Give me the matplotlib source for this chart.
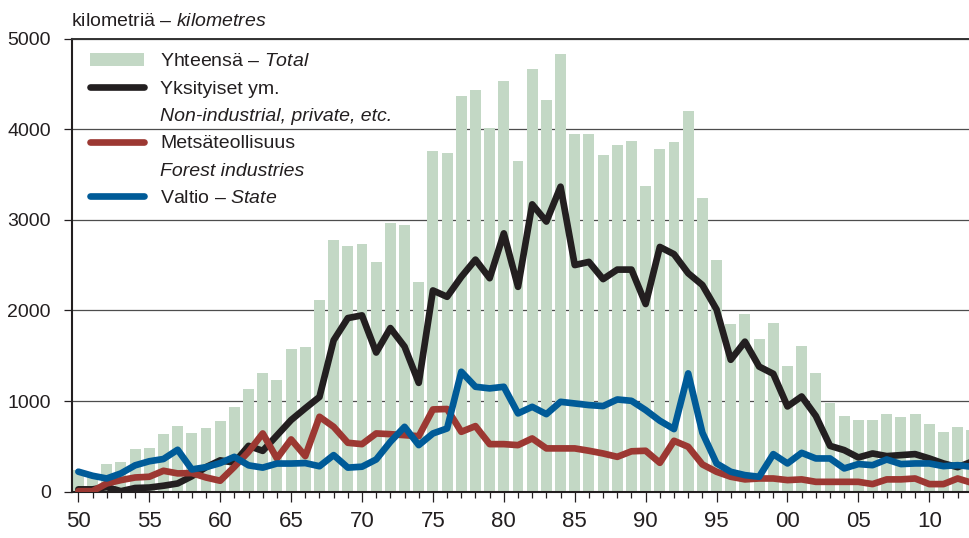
"""Tieverkko: rakennetut metsäautotiet omistajaryhmittäin 1950-2013."""
import matplotlib
matplotlib.use("Agg")
import matplotlib.pyplot as plt
from matplotlib.lines import Line2D
from matplotlib.patches import Patch

plt.rcParams["font.family"] = ["Liberation Sans", "DejaVu Sans"]
plt.rcParams["mathtext.fontset"] = "custom"
plt.rcParams["mathtext.rm"] = "Liberation Sans"
plt.rcParams["mathtext.it"] = "Liberation Sans:italic"

years = list(range(1950, 2014))
total = [240, 200, 304, 326, 470, 482, 638, 723, 646, 705,
         782, 936, 1130, 1311, 1231, 1573, 1595, 2114, 2776, 2710,
         2732, 2533, 2964, 2942, 2312, 3758, 3736, 4365, 4431, 4012,
         4531, 3648, 4663, 4321, 4829, 3946, 3946, 3714, 3825, 3869,
         3375, 3780, 3857, 4200, 3240, 2555, 1849, 1959, 1683, 1860,
         1385, 1606, 1308, 977, 833, 789, 789, 855, 822, 855,
         745, 657, 712, 680]
private = [25, 25, 50, 5, 40, 45, 65, 90, 170, 270,
           345, 320, 505, 450, 620, 790, 920, 1045, 1670, 1915,
           1945, 1535, 1805, 1600, 1200, 2220, 2150, 2370, 2560, 2355,
           2850, 2260, 3170, 2980, 3365, 2500, 2535, 2345, 2450, 2450,
           2070, 2700, 2620, 2410, 2280, 2010, 1455, 1655, 1380, 1300,
           940, 1050, 835, 505, 458, 377, 421, 392, 403, 414,
           366, 311, 270, 330]
industry = [5, 5, 90, 127, 156, 164, 230, 201, 205, 156,
            120, 274, 440, 642, 366, 576, 392, 826, 715, 539,
            524, 642, 634, 623, 612, 907, 912, 660, 723, 524,
            524, 513, 587, 477, 477, 477, 451, 421, 384, 445,
            451, 318, 561, 495, 300, 219, 164, 135, 145, 145,
            127, 135, 108, 108, 108, 108, 83, 135, 135, 145,
            83, 83, 145, 97]
state = [220, 175, 145, 201, 290, 335, 360, 462, 245, 270,
         315, 384, 290, 265, 310, 310, 315, 280, 403, 265,
         275, 355, 550, 715, 513, 642, 697, 1323, 1157, 1139,
         1157, 863, 936, 855, 991, 973, 955, 944, 1017, 1002,
         900, 782, 690, 1305, 650, 311, 219, 182, 164, 414,
         311, 428, 366, 366, 256, 304, 292, 355, 304, 311,
         311, 281, 292, 274]

xtick_years = list(range(1950, 2011, 5))
xtick_labels = ["50", "55", "60", "65", "70", "75", "80", "85", "90",
                "95", "00", "05", "10"]
ytick_values = [0, 1000, 2000, 3000, 4000, 5000]

legend_labels = ["Yhteensä – $\\mathit{Total}$",
                 "Yksityiset ym.",
                 "Non-industrial, private, etc.",
                 "Metsäteollisuus",
                 "Forest industries",
                 "Valtio – $\\mathit{State}$"]

TEXT = "#231f20"
BAR = "#c3d8c5"
BLACK = "#231f20"
RED = "#9c3832"
BLUE = "#005b98"
LW = 4.8


def main():
    fig = plt.figure(figsize=(9.69, 5.38), dpi=100)
    ax = fig.add_axes([0.074, 0.0862, 0.926, 0.8422])

    bars = ax.bar(years, total, width=0.77, color=BAR, zorder=2)
    line_kw = dict(lw=LW, solid_joinstyle="round", solid_capstyle="round", zorder=3)
    ax.plot(years, private, color=BLACK, **line_kw)
    ax.plot(years, industry, color=RED, **line_kw)
    ax.plot(years, state, color=BLUE, **line_kw)

    ax.set_xlim(1949.53, 2012.8)
    ax.set_ylim(0, 5000)
    ax.set_axisbelow(True)
    ax.yaxis.grid(True, color="#4d4d4d", lw=0.9)

    ax.set_yticks(ytick_values)
    ax.set_yticklabels([str(v) for v in ytick_values])
    ax.set_xticks(xtick_years)
    ax.set_xticklabels(xtick_labels)
    ax.set_xticks(years[:-1], minor=True)
    ax.tick_params(axis="y", length=6, width=0.9, pad=9, labelsize=14,
                   colors=TEXT)
    ax.tick_params(axis="x", which="major", length=7.2, width=0.9, pad=6.5,
                   labelsize=16, colors=TEXT)
    ax.tick_params(axis="x", which="minor", length=4.3, width=0.9, colors=TEXT)

    for side in ("left", "bottom"):
        ax.spines[side].set_linewidth(1.5)
        ax.spines[side].set_color(TEXT)
    ax.spines["right"].set_visible(False)
    ax.spines["top"].set_linewidth(1.4)
    ax.spines["top"].set_color("#333333")

    blank = Patch(color="none")
    handles = [bars,
               Line2D([], [], color=BLACK, lw=LW, solid_capstyle="round"),
               blank,
               Line2D([], [], color=RED, lw=LW, solid_capstyle="round"),
               blank,
               Line2D([], [], color=BLUE, lw=LW, solid_capstyle="round")]
    leg = ax.legend(handles, legend_labels, loc="upper left",
                    bbox_to_anchor=(0.0204, 0.9685), frameon=False,
                    fontsize=14, handlelength=2.8, handleheight=0.7,
                    handletextpad=0.8, labelspacing=0.5, borderpad=0,
                    borderaxespad=0)
    for i, t in enumerate(leg.get_texts()):
        t.set_color(TEXT)
        if i in (2, 4):
            t.set_fontstyle("italic")

    fig.text(0.0733, 0.9517, "kilometriä – $\\mathit{kilometres}$",
             fontsize=14, va="baseline", color=TEXT)

    fig.savefig("out.png", dpi=100)


if __name__ == "__main__":
    main()
